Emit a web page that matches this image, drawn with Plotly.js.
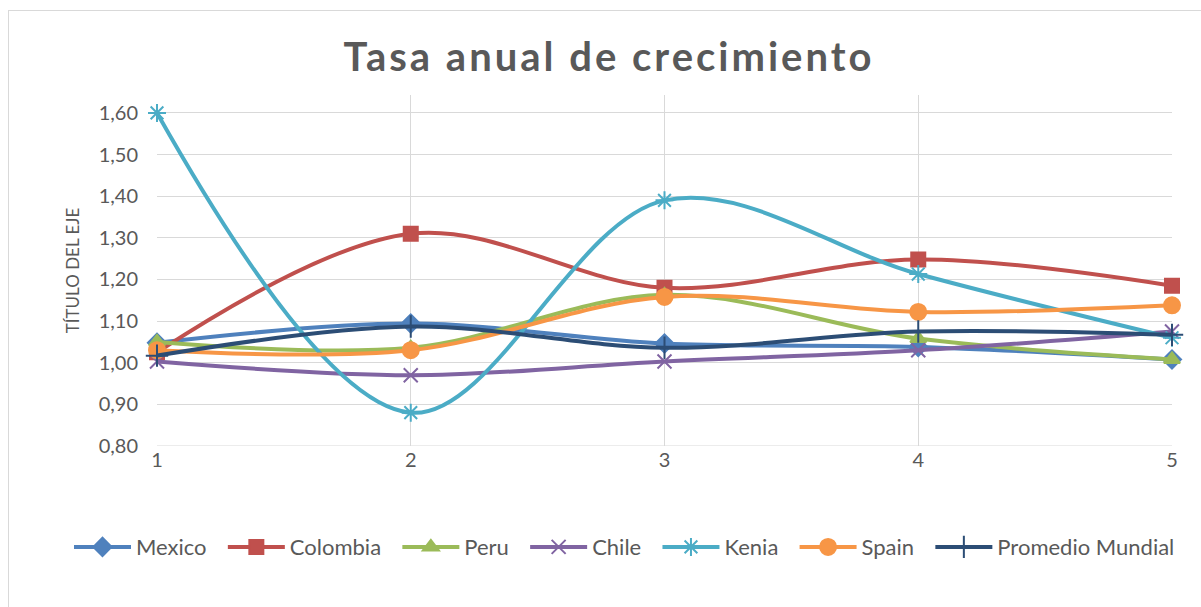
<!DOCTYPE html>
<html>
<head>
<meta charset="utf-8">
<script src="https://cdn.plot.ly/plotly-3.0.1.min.js"></script>
<style>
  html, body { margin: 0; padding: 0; background: #fff; }
  #wrap { position: relative; width: 1201px; height: 607px; }
  #chart { width: 1201px; height: 607px; }
  #frame { position: absolute; left: 8px; top: 10px; width: 1193px; height: 597px;
           border-left: 1px solid #d9d9d9; border-top: 1px solid #d9d9d9; pointer-events: none; }
  .gtitle { letter-spacing: 3px; }
</style>
</head>
<body>
<div id="wrap">
  <div id="chart"></div>
  <div id="frame"></div>
</div>
<script>
const periods = [1, 2, 3, 4, 5];
const mexico   = [1.048, 1.094, 1.046, 1.038, 1.008];
const colombia = [1.025, 1.310, 1.180, 1.248, 1.185];
const peru     = [1.050, 1.036, 1.163, 1.058, 1.008];
const chile    = [1.003, 0.970, 1.003, 1.030, 1.075];
const kenia    = [1.600, 0.880, 1.390, 1.213, 1.060];
const spain    = [1.030, 1.030, 1.158, 1.122, 1.138];
const promedio = [1.017, 1.087, 1.036, 1.075, 1.067];
const yTicks = [0.8, 0.9, 1.0, 1.1, 1.2, 1.3, 1.4, 1.5, 1.6];

const seriesDefs = [
  {name: 'Mexico', y: mexico, color: '#4f81bd', symbol: 'diamond', size: 14},
  {name: 'Colombia', y: colombia, color: '#c0504d', symbol: 'square', size: 14},
  {name: 'Peru', y: peru, color: '#9bbb59', symbol: 'triangle-up', size: 14},
  {name: 'Chile', y: chile, color: '#8064a2', symbol: 'x-thin-open', size: 14},
  {name: 'Kenia', y: kenia, color: '#4bacc6', symbol: 'asterisk-open', size: 15},
  {name: 'Spain', y: spain, color: '#f79646', symbol: 'circle', size: 16},
  {name: 'Promedio Mundial', y: promedio, color: '#2c4d75', symbol: 'cross-thin-open', size: 16}
];

const pad = '\u00a0\u00a0';
const traces = seriesDefs.map((s, i) => ({
  type: 'scatter',
  mode: 'lines+markers',
  name: i < seriesDefs.length - 1 ? s.name + pad : s.name,
  x: periods,
  y: s.y,
  cliponaxis: false,
  line: {color: s.color, width: 4, shape: 'spline', smoothing: 1},
  marker: {color: s.color, symbol: s.symbol, size: s.size,
           line: {color: s.color, width: 2}}
}));

const layout = {
  width: 1201, height: 607,
  paper_bgcolor: '#ffffff', plot_bgcolor: '#ffffff',
  separators: ',.',
  font: {family: 'Lato, "Open Sans", sans-serif', color: '#595959', size: 20},
  margin: {l: 157, r: 29, t: 95, b: 161, autoexpand: false},
  title: {
    text: '<b>Tasa anual de crecimiento</b>',
    font: {family: 'Lato, "Open Sans", sans-serif', size: 40, color: '#595959'},
    xref: 'container', x: 0.507, xanchor: 'center',
    yref: 'container', y: 0.906, yanchor: 'middle'
  },
  xaxis: {
    range: [1, 5], tickmode: 'array', tickvals: periods, ticktext: periods.map(String),
    showgrid: true, gridcolor: '#d9d9d9', gridwidth: 1,
    zeroline: false, showline: false, ticks: '',
    tickfont: {size: 20, color: '#595959'}, automargin: false
  },
  yaxis: {
    range: [0.8, 1.643], tickmode: 'array', tickvals: yTicks,
    tickformat: '.2f',
    showgrid: true, gridcolor: '#d9d9d9', gridwidth: 1,
    zeroline: false, showline: false, ticks: '',
    tickfont: {size: 20, color: '#595959'},
    ticklabelstandoff: 18, automargin: false,
    title: {text: 'TÍTULO DEL EJE', font: {size: 17, color: '#595959'}, standoff: 14}
  },
  shapes: [
    {type: 'line', xref: 'paper', yref: 'y', x0: 0, x1: 1, y0: 0.8, y1: 0.8,
     line: {color: '#d9d9d9', width: 1}, layer: 'below'}
  ],
  showlegend: true,
  legend: {
    orientation: 'h', xref: 'paper', x: -0.0867, xanchor: 'left',
    yref: 'paper', y: -0.288, yanchor: 'middle',
    font: {size: 22, color: '#595959'}, itemwidth: 57, traceorder: 'normal'
  }
};

Plotly.newPlot('chart', traces, layout, {displayModeBar: false, staticPlot: true});
</script>
</body>
</html>
